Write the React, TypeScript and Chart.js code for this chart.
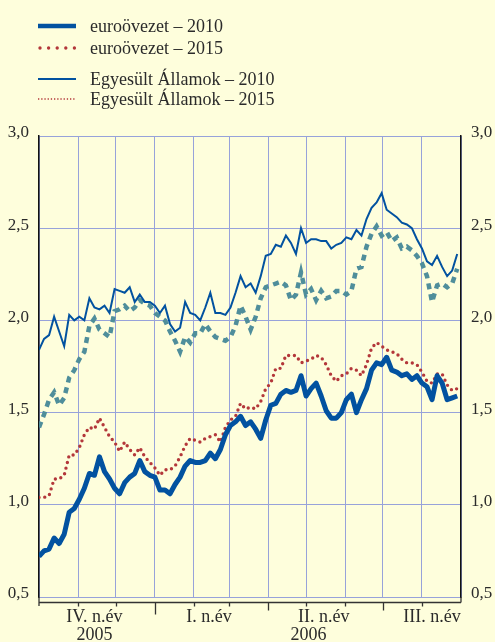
import React, { useEffect, useRef } from "react";
import { Chart, registerables } from "chart.js";

Chart.register(...registerables);

// Day offsets from 1 Oct 2005 (sampling grid)
const DAYS = [
  0, 4, 8, 12, 16, 20, 24, 28, 32, 36, 40, 44, 48, 52, 56, 60, 64, 68, 72, 76,
  80, 84, 88, 92, 96, 100, 104, 108, 112, 116, 120, 124, 128, 132, 136, 140,
  144, 148, 152, 156, 160, 164, 168, 172, 176, 180, 184, 188, 192, 196, 200,
  204, 208, 212, 216, 220, 224, 228, 232, 236, 240, 244, 248, 252, 256, 260,
  264, 268, 272, 276, 280, 284, 288, 292, 296, 300, 304, 308, 312, 316, 320,
  324, 328, 332,
];

// Month boundaries (days from 1 Oct 2005)
const MONTH_STARTS = [0, 31, 61, 92, 123, 151, 182, 212, 243, 273, 304, 335];
const QUARTER_STARTS = [92, 182, 273];
const YEAR_STARTS = [92];

const QUARTER_LABELS = ["IV. n.év", "I. n.év", "II. n.év", "III. n.év"];
const QUARTER_LABEL_DAYS = [44, 135, 226, 312];
const YEAR_LABELS = ["2005", "2006"];
const YEAR_LABEL_DAYS = [44, 214];

const EURO_2010 = [
  0.72, 0.75, 0.76, 0.82, 0.79, 0.84, 0.96, 0.98, 1.03, 1.09, 1.17, 1.16,
  1.26, 1.18, 1.14, 1.09, 1.06, 1.12, 1.15, 1.17, 1.24, 1.18, 1.16, 1.15,
  1.08, 1.08, 1.06, 1.11, 1.15, 1.21, 1.24, 1.23, 1.23, 1.24, 1.28, 1.25,
  1.3, 1.38, 1.43, 1.45, 1.48, 1.43, 1.45, 1.41, 1.36, 1.46, 1.54, 1.55, 1.6,
  1.62, 1.61, 1.62, 1.7, 1.59, 1.63, 1.66, 1.59, 1.51, 1.47, 1.47, 1.5,
  1.57, 1.6, 1.5, 1.57, 1.63, 1.73, 1.77, 1.76, 1.8, 1.73, 1.72, 1.7, 1.71,
  1.68, 1.7, 1.66, 1.64, 1.57, 1.7, 1.66, 1.57, 1.58, 1.59,
];

const EURO_2015 = [
  1.04, 1.04, 1.05, 1.14, 1.14, 1.16, 1.27, 1.27, 1.31, 1.38, 1.42, 1.41,
  1.47, 1.42, 1.37, 1.34, 1.29, 1.34, 1.3, 1.27, 1.31, 1.26, 1.23, 1.2, 1.16,
  1.19, 1.19, 1.21, 1.26, 1.32, 1.36, 1.35, 1.34, 1.36, 1.37, 1.38, 1.34,
  1.42, 1.46, 1.48, 1.55, 1.52, 1.53, 1.52, 1.56, 1.63, 1.66, 1.74, 1.74,
  1.81, 1.81, 1.81, 1.77, 1.78, 1.79, 1.81, 1.8, 1.76, 1.7, 1.67, 1.7, 1.71,
  1.74, 1.73, 1.7, 1.76, 1.85, 1.88, 1.86, 1.84, 1.83, 1.82, 1.79, 1.77,
  1.77, 1.76, 1.72, 1.67, 1.66, 1.71, 1.71, 1.65, 1.62, 1.63,
];

const US_2010 = [
  1.84, 1.9, 1.92, 2.02, 1.94, 1.86, 2.03, 2.0, 2.02, 2.0, 2.12, 2.07, 2.06,
  2.08, 2.04, 2.17, 2.16, 2.15, 2.18, 2.1, 2.14, 2.1, 2.1, 2.08, 2.04, 2.08,
  1.98, 1.94, 1.96, 2.1, 2.04, 2.03, 2.0, 2.07, 2.15, 2.04, 2.04, 2.03, 2.07,
  2.15, 2.24, 2.18, 2.2, 2.15, 2.24, 2.35, 2.36, 2.41, 2.4, 2.46, 2.42, 2.36,
  2.5, 2.42, 2.44, 2.44, 2.43, 2.43, 2.39, 2.41, 2.42, 2.45, 2.44, 2.49,
  2.46, 2.55, 2.61, 2.64, 2.69, 2.6, 2.58, 2.56, 2.53, 2.52, 2.5, 2.44, 2.39,
  2.32, 2.3, 2.35, 2.29, 2.24, 2.27, 2.36,
];

const US_2015 = [
  1.42, 1.49, 1.57, 1.61, 1.54, 1.58, 1.69, 1.73, 1.79, 1.83, 1.97, 2.01,
  1.95, 1.93, 1.91, 2.05, 2.06, 2.08, 2.05, 2.07, 2.11, 2.09, 2.08, 2.04,
  2.02, 2.0, 1.94, 1.89, 1.83, 1.91, 1.88, 1.93, 1.93, 1.98, 1.94, 1.91, 1.9,
  1.89, 1.91, 1.97, 2.08, 2.02, 1.95, 2.02, 2.12, 2.18, 2.19, 2.2, 2.21,
  2.19, 2.11, 2.14, 2.26, 2.14, 2.17, 2.11, 2.16, 2.12, 2.13, 2.16, 2.16,
  2.14, 2.16, 2.28, 2.29, 2.4, 2.47, 2.51, 2.46, 2.48, 2.43, 2.45, 2.39, 2.4,
  2.38, 2.35, 2.31, 2.24, 2.1, 2.19, 2.2, 2.18, 2.2, 2.28,
];

const SERIES_NAMES = [
  "euroövezet – 2010",
  "euroövezet – 2015",
  "Egyesült Államok – 2010",
  "Egyesült Államok – 2015",
];

const BG = "#FEFEDC";
const BLUE = "#0252A0";
const RED = "#B3373A";
const TEAL = "#4F8E9B";
const GRID = "#97A2DA";
const TEXT = "#2B2B2B";
const FONT = "'Liberation Serif', 'Times New Roman', serif";

const toPts = (vals: number[]) => vals.map((v, i) => ({ x: DAYS[i], y: v }));

const bracketAxis = {
  id: "bracketAxis",
  afterDraw(chart: any) {
    const { ctx, chartArea } = chart;
    const x = chart.scales.x;
    const b = chartArea.bottom;
    const lineY = b + 5.5;
    ctx.save();
    ctx.strokeStyle = "#333";
    ctx.lineWidth = 1.3;
    ctx.beginPath();
    ctx.moveTo(chartArea.left, b);
    ctx.lineTo(chartArea.left, b + 9);
    ctx.moveTo(chartArea.right, b);
    ctx.lineTo(chartArea.right, lineY);
    ctx.moveTo(chartArea.left, lineY);
    ctx.lineTo(chartArea.right, lineY);
    MONTH_STARTS.slice(1, -1).forEach((d) => {
      const px = Math.round(x.getPixelForValue(d)) + 0.5;
      let len = 4;
      if (QUARTER_STARTS.includes(d)) len = 8;
      if (YEAR_STARTS.includes(d)) len = 12;
      ctx.moveTo(px, lineY);
      ctx.lineTo(px, lineY + len);
    });
    ctx.stroke();

    ctx.fillStyle = TEXT;
    ctx.font = `18px ${FONT}`;
    ctx.textAlign = "center";
    ctx.textBaseline = "middle";
    QUARTER_LABELS.forEach((t, i) => {
      ctx.fillText(t, x.getPixelForValue(QUARTER_LABEL_DAYS[i]), b + 20);
    });
    YEAR_LABELS.forEach((t, i) => {
      ctx.fillText(t, x.getPixelForValue(YEAR_LABEL_DAYS[i]), b + 38);
    });
    ctx.restore();
  },
};

const fmt = (v: any) => Number(v).toFixed(1).replace(".", ",");

export default function App() {
  const ref = useRef<HTMLCanvasElement | null>(null);

  useEffect(() => {
    if (!ref.current) return;
    const chart = new Chart(ref.current, {
      type: "line",
      data: {
        datasets: [
          {
            label: SERIES_NAMES[0],
            data: toPts(EURO_2010),
            borderColor: BLUE,
            borderWidth: 5,
            pointRadius: 0,
            tension: 0,
            borderJoinStyle: "round",
          },
          {
            label: SERIES_NAMES[1],
            data: toPts(EURO_2015),
            borderColor: RED,
            borderWidth: 3.4,
            borderDash: [0, 5.8],
            borderCapStyle: "round",
            pointRadius: 0,
            tension: 0,
          },
          {
            label: SERIES_NAMES[2],
            data: toPts(US_2010),
            borderColor: BLUE,
            borderWidth: 2,
            pointRadius: 0,
            tension: 0,
          },
          {
            label: SERIES_NAMES[3],
            data: toPts(US_2015),
            borderColor: TEAL,
            borderWidth: 4.5,
            borderDash: [6, 5],
            borderCapStyle: "butt",
            pointRadius: 0,
            tension: 0,
          },
        ],
      },
      options: {
        animation: false,
        responsive: false,
        devicePixelRatio: 1,
        layout: { padding: { top: 136, bottom: 45, left: 0, right: 0 } },
        plugins: { legend: { display: false }, tooltip: { enabled: false } },
        scales: {
          x: {
            type: "linear",
            min: 0,
            max: 335,
            afterBuildTicks: (s: any) => {
              s.ticks = MONTH_STARTS.map((v) => ({ value: v }));
            },
            afterFit: (s: any) => {
              s.height = 0;
            },
            ticks: { display: false },
            grid: { color: GRID, lineWidth: 1, drawTicks: false },
            border: { display: false },
          },
          y: {
            position: "left",
            min: 0.5,
            max: 3.0,
            afterFit: (s: any) => {
              s.width = 39;
            },
            ticks: {
              stepSize: 0.5,
              callback: fmt,
              color: TEXT,
              font: { family: FONT, size: 17 },
              padding: 10,
              labelOffset: -3,
            },
            grid: { color: GRID, lineWidth: 1, drawTicks: false },
            border: { display: true, color: "#111", width: 1.5 },
          },
          y2: {
            position: "right",
            min: 0.5,
            max: 3.0,
            afterFit: (s: any) => {
              s.width = 34;
            },
            ticks: {
              stepSize: 0.5,
              callback: fmt,
              color: TEXT,
              font: { family: FONT, size: 17 },
              padding: 10,
              labelOffset: -3,
            },
            grid: { display: false, drawTicks: false },
            border: { display: true, color: "#111", width: 1.5 },
          },
        },
      },
      plugins: [bracketAxis],
    } as any);
    return () => chart.destroy();
  }, []);

  const legendRows = [26, 48, 79, 99];

  return (
    <div
      style={{
        position: "absolute",
        left: 0,
        top: 0,
        width: 495,
        height: 642,
        background: BG,
        overflow: "hidden",
      }}
    >
      <canvas
        ref={ref}
        width={495}
        height={642}
        style={{ position: "absolute", left: 0, top: 0 }}
      />
      <svg
        width={495}
        height={112}
        style={{ position: "absolute", left: 0, top: 0 }}
      >
        <line x1={38} x2={76} y1={legendRows[0]} y2={legendRows[0]} stroke={BLUE} strokeWidth={4.5} />
        <line
          x1={40}
          x2={75}
          y1={legendRows[1]}
          y2={legendRows[1]}
          stroke={RED}
          strokeWidth={3.4}
          strokeLinecap="round"
          strokeDasharray="0 8.6"
        />
        <line x1={38} x2={76} y1={legendRows[2]} y2={legendRows[2]} stroke={BLUE} strokeWidth={2.2} />
        <line
          x1={38}
          x2={76}
          y1={legendRows[3]}
          y2={legendRows[3]}
          stroke={RED}
          strokeWidth={1.3}
          strokeDasharray="1.3 1.9"
        />
      </svg>
      {SERIES_NAMES.map((name, i) => (
        <div
          key={name}
          style={{
            position: "absolute",
            left: 90,
            top: legendRows[i] - 11,
            height: 22,
            lineHeight: "22px",
            fontFamily: FONT,
            fontSize: 18,
            color: TEXT,
            whiteSpace: "nowrap",
          }}
        >
          {name}
        </div>
      ))}
    </div>
  );
}
